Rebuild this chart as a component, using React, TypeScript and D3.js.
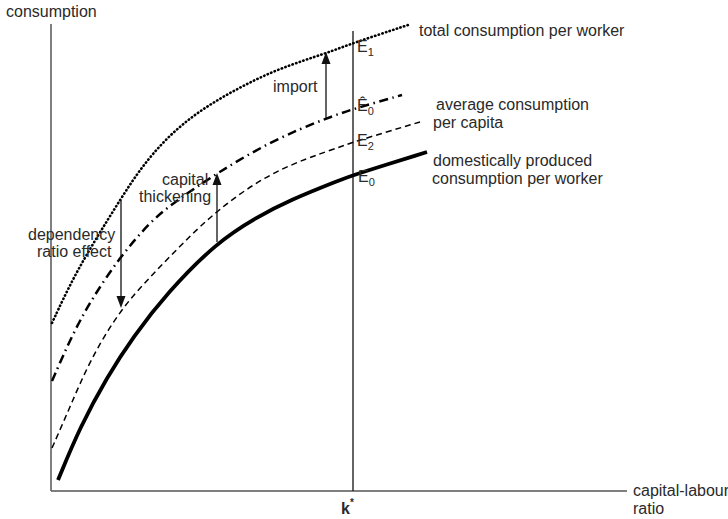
import React from "react";
import * as d3 from "d3";

// Abstract units: k = capital-labour ratio, c = consumption
const totalK = [1, 22, 46, 69, 89, 116, 149, 189, 229, 276, 302, 357];
const totalC = [168, 213, 254, 291, 322, 354, 381, 404, 423, 438, 448, 466];
const avgWorkerK = [1, 22, 42, 69, 99, 122, 166, 222, 276, 302, 351];
const avgWorkerC = [110, 158, 194, 234, 269, 288, 318, 351, 373, 382, 396];
const perCapitaK = [1, 19, 39, 69, 99, 132, 166, 222, 289, 302, 369];
const perCapitaC = [43, 84, 131, 181, 214, 248, 281, 321, 344, 349, 369];
const domesticK = [7, 29, 56, 82, 116, 166, 206, 239, 289, 302, 376];
const domesticC = [11, 64, 114, 154, 198, 249, 274, 291, 311, 316, 339];

const kStar = 302;
const importArrow = { k: 275, from: 373, to: 439 };
const thickArrow = { k: 166, from: 249, to: 318 };
const depArrow = { k: 70, from: 291, to: 183 };

const W = 728;
const H = 519;

const x = d3.scaleLinear().domain([0, 576]).range([51, 627]);
const y = d3.scaleLinear().domain([0, 467]).range([491, 24]);

const zip = (ks: number[], cs: number[]) => ks.map((k, i) => [k, cs[i]] as [number, number]);
const line = d3
  .line<[number, number]>()
  .x((d) => x(d[0]))
  .y((d) => y(d[1]))
  .curve(d3.curveBasis);

const TXT = "#2a2a2a";
const FONT = "'Liberation Sans', Arial, sans-serif";

function Arrow({ k, from, to }: { k: number; from: number; to: number }) {
  const x0 = x(k);
  const y0 = y(from);
  const y1 = y(to);
  const dir = y1 < y0 ? 1 : -1; // 1 -> arrow pointing up
  const len = 12;
  const hw = 4.5;
  const tip = y1;
  const base = tip + dir * len;
  return (
    <g>
      <line x1={x0} y1={y0} x2={x0} y2={base} stroke="#111" strokeWidth={1.3} />
      <path d={`M${x0},${tip} L${x0 - hw},${base} L${x0 + hw},${base} Z`} fill="#111" />
    </g>
  );
}

function ELabel({ px, py, sub, hat }: { px: number; py: number; sub: string; hat?: boolean }) {
  return (
    <text x={px} y={py} fontFamily={FONT} fontSize={16} fill={TXT}>
      {hat ? "Ê" : "E"}
      <tspan fontSize={11} dy={4}>{sub}</tspan>
    </text>
  );
}

export default function App() {
  return (
    <svg width={W} height={H} style={{ display: "block", position: "absolute", left: 0, top: 0, background: "#fff" }}>
      {/* axes */}
      <line x1={x(0)} y1={y(0)} x2={x(0)} y2={y(467)} stroke="#555" strokeWidth={1.5} />
      <line x1={x(0)} y1={y(0)} x2={x(576)} y2={y(0)} stroke="#555" strokeWidth={1.5} />
      {/* k* line */}
      <line x1={x(kStar)} y1={y(0)} x2={x(kStar)} y2={y(460)} stroke="#111" strokeWidth={1.3} />

      {/* curves */}
      <path d={line(zip(totalK, totalC)) || ""} fill="none" stroke="#000" strokeWidth={2.6}
        strokeDasharray="0.4 3.4" strokeLinecap="round" />
      <path d={line(zip(avgWorkerK, avgWorkerC)) || ""} fill="none" stroke="#000" strokeWidth={2.5}
        strokeDasharray="9 4.5 1.5 4.5" />
      <path d={line(zip(perCapitaK, perCapitaC)) || ""} fill="none" stroke="#000" strokeWidth={1.5}
        strokeDasharray="6 4" />
      <path d={line(zip(domesticK, domesticC)) || ""} fill="none" stroke="#000" strokeWidth={3.8} />

      {/* arrows */}
      <Arrow {...importArrow} />
      <Arrow {...thickArrow} />
      <Arrow {...depArrow} />

      {/* labels */}
      <g fontFamily={FONT} fontSize={16} fill={TXT}>
        <text x={6} y={17}>consumption</text>
        <text x={419} y={36}>total consumption per worker</text>
        <text x={436} y={110}>average consumption</text>
        <text x={433} y={128}>per capita</text>
        <text x={433} y={166}>domestically produced</text>
        <text x={432} y={184}>consumption per worker</text>
        <text x={273} y={92}>import</text>
        <text x={162} y={185}>capital</text>
        <text x={139} y={202}>thickening</text>
        <text x={28} y={240}>dependency</text>
        <text x={37} y={257}>ratio effect</text>
        <text x={633} y={496}>capital-labour</text>
        <text x={633} y={514}>ratio</text>
        <text x={341} y={514} fontWeight="bold">
          k<tspan fontSize={10} dy={-8}>*</tspan>
        </text>
      </g>
      <ELabel px={357} py={52} sub="1" />
      <ELabel px={357} py={111} sub="0" hat />
      <ELabel px={357} py={146} sub="2" />
      <ELabel px={358} py={182} sub="0" />
    </svg>
  );
}
